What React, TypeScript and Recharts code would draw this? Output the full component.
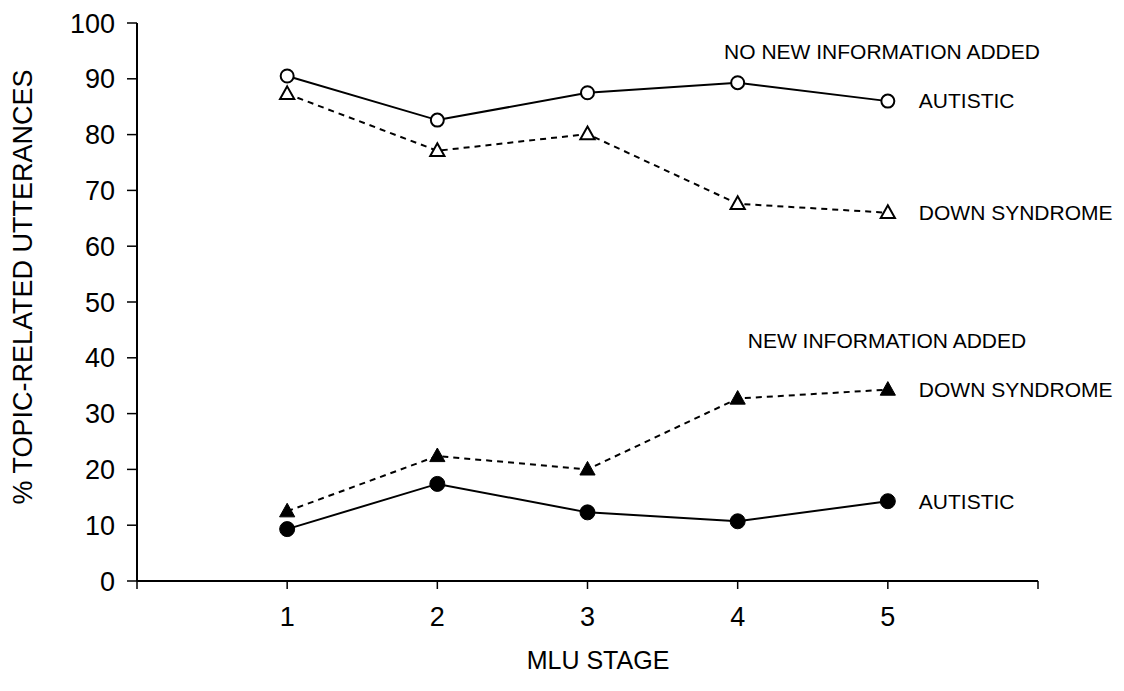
import React from "react";
import { LineChart, Line, XAxis, YAxis, LabelList, Customized } from "recharts";

const stages = [1, 2, 3, 4, 5];
const autisticNoNew = [90.5, 82.6, 87.5, 89.3, 86.0];
const downNoNew = [87.3, 77.1, 80.1, 67.6, 66.0];
const downNew = [12.5, 22.4, 20.0, 32.7, 34.3];
const autisticNew = [9.3, 17.4, 12.3, 10.7, 14.3];
const yTicks = [0, 10, 20, 30, 40, 50, 60, 70, 80, 90, 100];
const xTicks = [0, 1, 2, 3, 4, 5, 6];
const xTickLabels = ["", "1", "2", "3", "4", "5", ""];

const data = stages.map((s, i) => ({
  stage: s,
  autNo: autisticNoNew[i],
  downNo: downNoNew[i],
  downNew: downNew[i],
  autNew: autisticNew[i],
}));

const FONT = "'Liberation Sans', Arial, sans-serif";

const OpenCircle = (p: any) => (
  <circle key={`oc${p.index}`} cx={p.cx} cy={p.cy} r={6.5} fill="#fff" stroke="#000" strokeWidth={2} />
);
const FilledCircle = (p: any) => (
  <circle key={`fc${p.index}`} cx={p.cx} cy={p.cy} r={7.5} fill="#000" stroke="#000" strokeWidth={1} />
);
const tri = (cx: number, cy: number, s: number) =>
  `M${cx},${cy - s} L${cx + s * 0.95},${cy + s * 0.7} L${cx - s * 0.95},${cy + s * 0.7} Z`;
const OpenTri = (p: any) => (
  <path key={`ot${p.index}`} d={tri(p.cx, p.cy, 7.5)} fill="#fff" stroke="#000" strokeWidth={2} />
);
const FilledTri = (p: any) => (
  <path key={`ft${p.index}`} d={tri(p.cx, p.cy, 8)} fill="#000" stroke="#000" strokeWidth={1} />
);

const endLabel = (text: string) => (p: any) => {
  if (p.index !== stages.length - 1) return null;
  return (
    <text x={p.x + 31} y={p.y} dy="0.35em" fontSize={21} fontFamily={FONT} fill="#000">
      {text}
    </text>
  );
};

const Headers = () => (
  <g fontFamily={FONT} fill="#000">
    <text x={882} y={52} dy="0.35em" textAnchor="middle" fontSize={21}>NO NEW INFORMATION ADDED</text>
    <text x={887} y={341} dy="0.35em" textAnchor="middle" fontSize={21}>NEW INFORMATION ADDED</text>
    <text x={23} y={287} dy="0.35em" textAnchor="middle" fontSize={27} transform="rotate(-90 23 287)">
      % TOPIC-RELATED UTTERANCES
    </text>
    <text x={598} y={660} dy="0.35em" textAnchor="middle" fontSize={25}>MLU STAGE</text>
  </g>
);

export default function App() {
  return (
    <div style={{ position: "absolute", left: 0, top: 0, width: 1124, height: 691, background: "#fff" }}>
      <LineChart width={1124} height={691} data={data} margin={{ top: 23, right: 86, bottom: 70, left: 57 }}>
        <XAxis
          dataKey="stage"
          type="number"
          domain={[0, 6]}
          ticks={xTicks}
          tickFormatter={(v: number) => xTickLabels[xTicks.indexOf(v)]}
          axisLine={{ stroke: "#000", strokeWidth: 2 }}
          tickLine={{ stroke: "#000", strokeWidth: 1.5 }}
          tickSize={8}
          tickMargin={18}
          tick={{ fill: "#000", fontSize: 27, fontFamily: FONT }}
          height={40}
        />
        <YAxis
          domain={[0, 100]}
          ticks={yTicks}
          interval={0}
          width={80}
          axisLine={{ stroke: "#000", strokeWidth: 2 }}
          tickLine={{ stroke: "#000", strokeWidth: 1.5 }}
          tickSize={10}
          tickMargin={12}
          tick={{ fill: "#000", fontSize: 27, fontFamily: FONT }}
        />
        <Line dataKey="autNo" stroke="#000" strokeWidth={2} dot={OpenCircle} isAnimationActive={false}>
          <LabelList dataKey="autNo" content={endLabel("AUTISTIC")} />
        </Line>
        <Line dataKey="downNo" stroke="#000" strokeWidth={2} strokeDasharray="6 5" dot={OpenTri} isAnimationActive={false}>
          <LabelList dataKey="downNo" content={endLabel("DOWN SYNDROME")} />
        </Line>
        <Line dataKey="downNew" stroke="#000" strokeWidth={2} strokeDasharray="6 5" dot={FilledTri} isAnimationActive={false}>
          <LabelList dataKey="downNew" content={endLabel("DOWN SYNDROME")} />
        </Line>
        <Line dataKey="autNew" stroke="#000" strokeWidth={2} dot={FilledCircle} isAnimationActive={false}>
          <LabelList dataKey="autNew" content={endLabel("AUTISTIC")} />
        </Line>
        <Customized component={Headers} />
      </LineChart>
    </div>
  );
}
